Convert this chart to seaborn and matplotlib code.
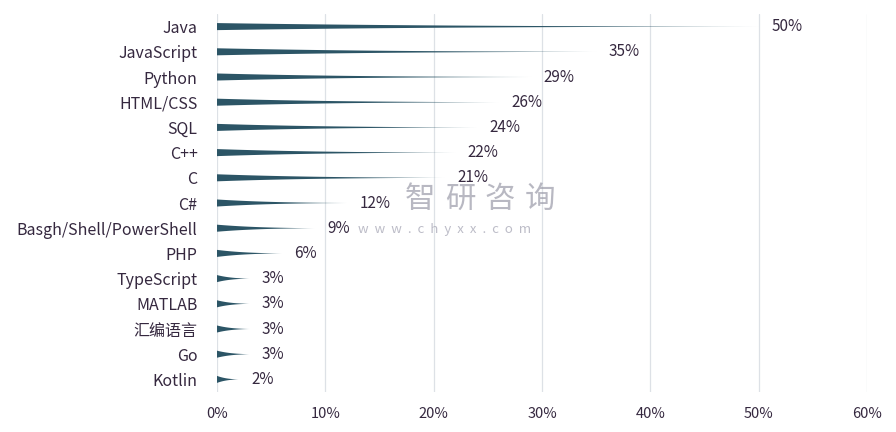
import numpy as np
import pandas as pd
import matplotlib
matplotlib.use("Agg")
import matplotlib.pyplot as plt
import seaborn as sns

languages = ["Java", "JavaScript", "Python", "HTML/CSS", "SQL", "C++", "C", "C#",
             "Basgh/Shell/PowerShell", "PHP", "TypeScript", "MATLAB", "汇编语言", "Go", "Kotlin"]
shares = [0.50, 0.35, 0.29, 0.26, 0.24, 0.22, 0.21, 0.12, 0.09, 0.06, 0.03, 0.03, 0.03, 0.03, 0.02]
x_ticks = [0.0, 0.1, 0.2, 0.3, 0.4, 0.5, 0.6]
x_tick_labels = ["0%", "10%", "20%", "30%", "40%", "50%", "60%"]

df = pd.DataFrame({"language": languages, "share": shares})

sns.set_theme(style="white")
plt.rcParams["font.family"] = ["Noto Sans CJK SC", "DejaVu Sans"]

TEXT = "#35283f"
WEDGE = "#2c5566"

fig = plt.figure(figsize=(8.96, 4.32), dpi=100)
ax = fig.add_axes([217 / 896, 1 - 392 / 432, 650 / 896, 378 / 432])

sns.barplot(data=df, x="share", y="language", orient="h", ax=ax,
            color=WEDGE, width=0.28, linewidth=0, saturation=1)

# turn each bar into a tapered wedge
for p, v in zip(list(ax.patches), shares):
    yc = p.get_y() + p.get_height() / 2
    h0 = p.get_height() / 2
    t = np.linspace(0, 1, 80)
    xs = p.get_x() + t * p.get_width()
    half = h0 * (0.6 * (1 - t) ** 3 + 0.4 * (1 - t) ** 1.3)
    ax.fill(np.concatenate([xs, xs[::-1]]),
            np.concatenate([yc - half, (yc + half)[::-1]]),
            color=WEDGE, linewidth=0, zorder=3)
    p.set_visible(False)
    ax.annotate(f"{v:.0%}", xy=(v, yc), xytext=(9, 0), textcoords="offset points",
                ha="left", va="center", fontsize=11, color=TEXT, zorder=5)

ax.set_xlim(0, 0.6)
ax.set_ylim(len(languages) - 0.5, -0.5)
ax.set_xticks(x_ticks)
ax.set_xticklabels(x_tick_labels)
ax.set_xlabel("")
ax.set_ylabel("")
ax.grid(axis="x", color="#dde1e6", linewidth=0.9, zorder=0)
ax.grid(axis="y", visible=False)
ax.set_axisbelow(True)
for s in ax.spines.values():
    s.set_visible(False)
ax.tick_params(axis="x", length=0, pad=11, labelsize=10.5, labelcolor=TEXT)
ax.tick_params(axis="y", length=0, pad=14, labelsize=11.5, labelcolor=TEXT)

# watermark
for ch, xp in zip("智研咨询", [420, 460, 500, 540]):
    fig.text(xp / 896, 1 - 199 / 432, ch, ha="center", va="center", fontsize=22,
             color="#9a9aa8", alpha=0.7, zorder=10)
fig.text(445 / 896, 1 - 229 / 432, "w  w  w  .  c  h  y  x  x  .  c  o  m", ha="center",
         va="center", fontsize=9.5, color="#a0a0b0", alpha=0.7, zorder=10)

fig.savefig("out.png", dpi=100, facecolor="white")
